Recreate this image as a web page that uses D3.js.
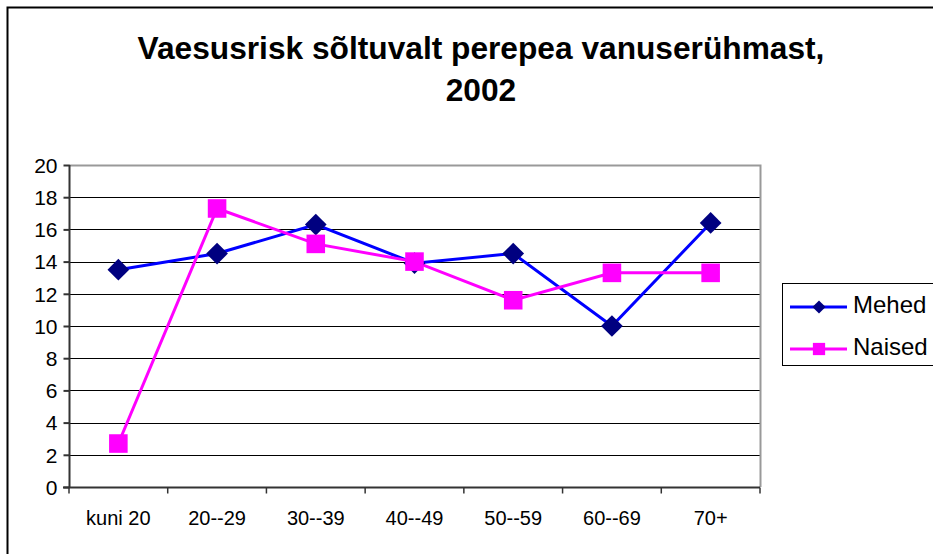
<!DOCTYPE html>
<html>
<head>
<meta charset="utf-8">
<script src="https://cdn.jsdelivr.net/npm/d3@7"></script>
<style>
  body { margin: 0; background: #fff; }
  text { font-family: "Liberation Sans", Arial, sans-serif; }
</style>
</head>
<body>
<div id="chart"></div>
<script>
// data
var categories = ["kuni 20", "20--29", "30--39", "40--49", "50--59", "60--69", "70+"];
var mehed = [13.5, 14.5, 16.3, 13.9, 14.5, 10.0, 16.4];
var naised = [2.7, 17.3, 15.1, 14.0, 11.6, 13.3, 13.3];
var yTicks = [0, 2, 4, 6, 8, 10, 12, 14, 16, 18, 20];

var series = [
    { name: "Mehed", values: mehed, line: "#0000ff", marker: "#000080", shape: "diamond" },
    { name: "Naised", values: naised, line: "#ff00ff", marker: "#ff00ff", shape: "square" }
];

var W = 933, H = 554;
var margin = { top: 165, right: 173, bottom: 67, left: 69 },
    width = W - margin.left - margin.right,
    height = H - margin.top - margin.bottom;

var root = d3.select("#chart").append("svg")
    .attr("width", W)
    .attr("height", H);

// outer chart border
root.append("rect")
    .attr("x", 7.5).attr("y", 7.5)
    .attr("width", W + 10).attr("height", H + 10)
    .attr("fill", "none").attr("stroke", "#000").attr("stroke-width", 2);

// title
var title = root.append("text")
    .attr("text-anchor", "middle")
    .attr("font-weight", "bold")
    .attr("font-size", 31.7);
title.append("tspan").attr("x", 481).attr("y", 59).text("Vaesusrisk sõltuvalt perepea vanuserühmast,");
title.append("tspan").attr("x", 481).attr("y", 101).text("2002");

var svg = root.append("g")
    .attr("transform", "translate(" + margin.left + "," + margin.top + ")");

var x = d3.scaleBand()
    .domain(categories)
    .range([0, width]);

var y = d3.scaleLinear()
    .domain([0, 20])
    .range([height, 0]);

// gridlines
svg.selectAll("line.grid")
    .data(yTicks.filter(function (d) { return d > 0 && d < 20; }))
    .enter()
    .append("line")
    .attr("x1", 0).attr("x2", width)
    .attr("y1", function (d) { return Math.round(y(d)) + 0.5; })
    .attr("y2", function (d) { return Math.round(y(d)) + 0.5; })
    .attr("stroke", "#000")
    .attr("stroke-width", 1);

// plot area border (top & right, gray)
svg.append("path")
    .attr("d", "M0," + 0.5 + "H" + (width + 0.5) + "V" + height)
    .attr("fill", "none")
    .attr("stroke", "#999")
    .attr("stroke-width", 2);

// Y axis
var yAxis = svg.append("g")
    .attr("transform", "translate(0.5,0)")
    .call(d3.axisLeft(y).tickValues(yTicks).tickSize(6).tickPadding(6).tickFormat(d3.format("d")));
yAxis.attr("font-size", null).attr("font-family", null);
yAxis.selectAll("text").attr("font-size", 21).attr("fill", "#000").attr("dy", "0.35em");
yAxis.selectAll("line").attr("stroke", "#333").attr("stroke-width", 2);
yAxis.select(".domain").attr("stroke", "#333").attr("stroke-width", 2).attr("d", "M0,0V" + height);

// X axis
var xAxis = svg.append("g")
    .attr("transform", "translate(0," + (height + 0.5) + ")");
xAxis.append("line")
    .attr("x1", -6).attr("x2", width)
    .attr("stroke", "#333").attr("stroke-width", 2);
xAxis.selectAll("line.tick")
    .data(categories.concat(["end"]))
    .enter()
    .append("line")
    .attr("x1", function (d, i) { return i < categories.length ? x(d) : width; })
    .attr("x2", function (d, i) { return i < categories.length ? x(d) : width; })
    .attr("y1", 0).attr("y2", 6)
    .attr("stroke", "#333").attr("stroke-width", 1.5);
xAxis.selectAll("text")
    .data(categories)
    .enter()
    .append("text")
    .attr("x", function (d) { return x(d) + x.bandwidth() / 2; })
    .attr("y", 37)
    .attr("text-anchor", "middle")
    .attr("font-size", 20)
    .text(function (d) { return d; });

// lines and markers
var line = d3.line()
    .x(function (d, i) { return x(categories[i]) + x.bandwidth() / 2; })
    .y(function (d) { return y(d); });

var diamond = d3.symbol().type(d3.symbolDiamond2).size(300);
var square = d3.symbol().type(d3.symbolSquare).size(345);

series.forEach(function (s) {
    svg.append("path")
        .datum(s.values)
        .attr("d", line)
        .attr("fill", "none")
        .attr("stroke", s.line)
        .attr("stroke-width", 3);
});
series.forEach(function (s) {
    svg.selectAll("path.m-" + s.name)
        .data(s.values)
        .enter()
        .append("path")
        .attr("transform", function (d, i) {
            return "translate(" + (x(categories[i]) + x.bandwidth() / 2) + "," + y(d) + ")";
        })
        .attr("d", s.shape === "diamond" ? diamond : square)
        .attr("fill", s.marker);
});

// legend
var legend = root.append("g");
legend.append("rect")
    .attr("x", 782.5).attr("y", 283.5)
    .attr("width", 200).attr("height", 82)
    .attr("fill", "#fff").attr("stroke", "#000").attr("stroke-width", 1);
series.forEach(function (s, i) {
    var ly = 307 + i * 42;
    legend.append("line")
        .attr("x1", 790).attr("x2", 847)
        .attr("y1", ly).attr("y2", ly)
        .attr("stroke", s.line).attr("stroke-width", 3);
    legend.append("path")
        .attr("transform", "translate(819," + ly + ")")
        .attr("d", s.shape === "diamond" ? d3.symbol().type(d3.symbolDiamond2).size(110) : d3.symbol().type(d3.symbolSquare).size(150))
        .attr("fill", s.marker);
    legend.append("text")
        .attr("x", 853).attr("y", ly + 6)
        .attr("font-size", 24)
        .text(s.name);
});
</script>
</body>
</html>
